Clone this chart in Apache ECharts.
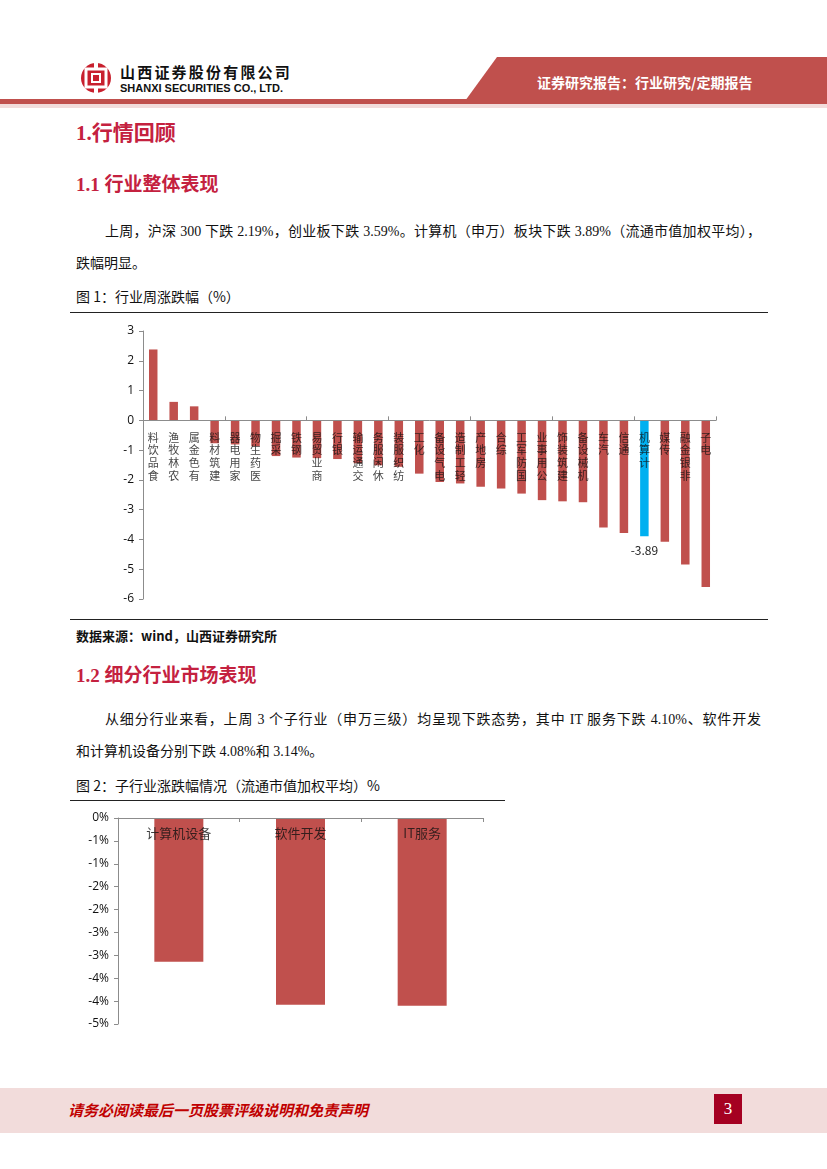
<!DOCTYPE html>
<html>
<head>
<meta charset="utf-8">
<script src="https://cdn.jsdelivr.net/npm/echarts@6/dist/echarts.min.js"></script>
<style>
  html,body{margin:0;padding:0;background:#fff;}
  body{width:827px;height:1169px;position:relative;overflow:hidden;font-family:"Liberation Serif","Noto Sans CJK SC",serif;}
  .abs{position:absolute;white-space:nowrap;}
  #chart{position:absolute;left:0;top:0;width:827px;height:1169px;}
  .h1{color:#C4213F;font-size:21px;font-weight:bold;font-family:"Liberation Serif","Noto Sans CJK SC",serif;}
  .h2{color:#C4213F;font-size:19px;font-weight:bold;font-family:"Liberation Serif","Noto Sans CJK SC",serif;}
  .p{font-size:14px;color:#111;font-family:"Liberation Serif","Noto Sans CJK SC",serif;}
  .just{text-align:justify;text-align-last:justify;white-space:normal;}
  .cap{font-size:14px;color:#111;font-family:"Noto Sans CJK SC",sans-serif;}
  .rule{position:absolute;height:0;border-top:1.5px solid #222;}
</style>
</head>
<body>
<!-- header -->
<svg class="abs" style="left:0;top:0" width="827" height="112">
  <polygon points="497,57 827,57 827,101 465,101" fill="#C0504D"/>
  <rect x="0" y="99" width="827" height="5" fill="#C0504D"/>
  <rect x="0" y="104" width="827" height="4" fill="#F2DCDB"/>
  <circle cx="96" cy="78" r="15" fill="#C8202E"/>
  <rect x="86" y="69" width="20" height="18" fill="none" stroke="#fff" stroke-width="3"/>
  <rect x="92" y="74" width="8" height="8" fill="#C8202E" stroke="#fff" stroke-width="2"/>
  <rect x="94" y="60" width="4" height="8" fill="#fff"/>
  <rect x="94" y="88" width="4" height="8" fill="#fff"/>
</svg>
<div class="abs" style="left:120px;top:63px;font-size:15px;font-weight:bold;color:#111;font-family:'Noto Sans CJK SC',sans-serif;letter-spacing:2.2px;line-height:18px;">山西证券股份有限公司</div>
<div class="abs" style="left:120px;top:81px;font-size:11px;font-weight:bold;color:#111;font-family:'Liberation Sans',sans-serif;line-height:14px;">SHANXI SECURITIES CO., LTD.</div>
<div class="abs" style="left:537px;top:73px;font-size:14px;font-weight:bold;color:#fff;font-family:'Noto Sans CJK SC',sans-serif;line-height:18px;">证券研究报告：行业研究/定期报告</div>

<div class="abs h1" style="left:76px;top:119px;line-height:28px;">1.行情回顾</div>
<div class="abs h2" style="left:76px;top:172px;line-height:26px;">1.1 行业整体表现</div>
<div class="abs p just" style="left:105px;top:222px;width:656px;line-height:20px;">上周，沪深 300 下跌 2.19%，创业板下跌 3.59%。计算机（申万）板块下跌 3.89%（流通市值加权平均），</div>
<div class="abs p" style="left:76px;top:254px;line-height:20px;">跌幅明显。</div>
<div class="abs cap" style="left:76px;top:286px;line-height:20px;">图 1：行业周涨跌幅（%）</div>
<div class="rule" style="left:70px;top:312px;width:698px;"></div>
<div class="rule" style="left:70px;top:619px;width:698px;"></div>
<div class="abs cap" style="left:76px;top:626px;line-height:20px;font-size:13px;font-weight:bold;">数据来源：wind，山西证券研究所</div>

<div class="abs h2" style="left:76px;top:663px;line-height:26px;">1.2 细分行业市场表现</div>
<div class="abs p just" style="left:105px;top:710px;width:656px;line-height:20px;">从细分行业来看，上周 3 个子行业（申万三级）均呈现下跌态势，其中 IT 服务下跌 4.10%、软件开发</div>
<div class="abs p" style="left:76px;top:742px;line-height:20px;">和计算机设备分别下跌 4.08%和 3.14%。</div>
<div class="abs cap" style="left:76px;top:775px;line-height:20px;">图 2：子行业涨跌幅情况（流通市值加权平均）%</div>
<div class="rule" style="left:70px;top:800px;width:435px;"></div>

<div id="chart"></div>

<!-- footer -->
<div class="abs" style="left:0;top:1088px;width:827px;height:45px;background:#F2DCDB;"></div>
<div class="abs" style="left:68px;top:1100px;font-size:15px;font-weight:bold;font-style:italic;color:#C00000;font-family:'Noto Sans CJK SC',sans-serif;line-height:20px;">请务必阅读最后一页股票评级说明和免责声明</div>
<div class="abs" style="left:714px;top:1094px;width:28px;height:30px;background:#A50021;color:#fff;font-size:17px;text-align:center;line-height:30px;font-family:'Liberation Serif',serif;">3</div>

<script>
// ---- Chart 1 data: 行业周涨跌幅（%） ----
const industries = ['食品饮料','农林牧渔','有色金属','建筑材料','家用电器','医药生物','采掘','钢铁','商业贸易','银行','交通运输','休闲服务','纺织服装','化工','电气设备','轻工制造','房地产','综合','国防军工','公用事业','建筑装饰','机械设备','汽车','通信','计算机','传媒','非银金融','电子'];
const weeklyChange = [2.38,0.62,0.47,-0.77,-0.81,-0.87,-1.20,-1.25,-1.27,-1.30,-1.44,-1.51,-1.56,-1.79,-2.07,-2.12,-2.23,-2.29,-2.46,-2.68,-2.72,-2.75,-3.60,-3.78,-3.89,-4.08,-4.84,-5.60];
const highlightIndustry = '计算机';
const yAxis1Min = -6, yAxis1Max = 3, yAxis1Step = 1;

// ---- Chart 2 data: 子行业涨跌幅（%） ----
const subIndustries = ['计算机设备','软件开发','IT服务'];
const subChange = [-3.14,-4.08,-4.10];
const yAxis2Min = -4.5, yAxis2Max = 0, yAxis2Step = 0.5;

const RED = '#C0504D', BLUE = '#00B0F0', AXIS = '#8C8C8C';
const cjk = '"Noto Sans CJK SC", sans-serif';

const chart = echarts.init(document.getElementById('chart'), null, {renderer:'canvas', width:827, height:1169});

const data1 = weeklyChange.map((v,i)=> industries[i]===highlightIndustry ? {
  value:v, itemStyle:{color:BLUE},
  label:{show:true, position:'bottom', distance:8, color:'#222', fontSize:12, fontFamily:cjk, formatter:(p)=>p.value.toFixed(2)}
} : v);

function excelPct(v){
  const r = Math.sign(v) * Math.round(Math.abs(v));
  return (r === 0 ? 0 : r) + '%';
}

// category-name label anchors sitting on the zero line (axis labels in the reference hang from the zero line)
const zeroAnchors1 = industries.map(c => [c, 0]);
const zeroAnchors2 = subIndustries.map(c => [c, 0]);

chart.setOption({
  animation:false,
  grid:[
    {left:143, right:111, top:331, height:268, containLabel:false},
    {left:118, right:344, top:818, height:206, containLabel:false}
  ],
  xAxis:[
    {gridIndex:0, type:'category', data:industries, z:5,
     axisLine:{onZero:true, lineStyle:{color:AXIS, width:1}},
     axisTick:{show:true, inside:true, length:4, lineStyle:{color:AXIS}},
     axisLabel:{show:false}
    },
    {gridIndex:1, type:'category', data:subIndustries, z:5,
     axisLine:{onZero:true, lineStyle:{color:AXIS, width:1}},
     axisTick:{show:true, inside:false, length:4, lineStyle:{color:AXIS}},
     axisLabel:{show:false}
    }
  ],
  yAxis:[
    {gridIndex:0, type:'value', min:yAxis1Min, max:yAxis1Max, interval:yAxis1Step,
     axisLine:{show:true, lineStyle:{color:AXIS}},
     axisTick:{show:true, length:4, lineStyle:{color:AXIS}},
     splitLine:{show:false},
     axisLabel:{color:'#111', fontSize:12, margin:9, fontFamily:'"Open Sans", sans-serif'}
    },
    {gridIndex:1, type:'value', min:yAxis2Min, max:yAxis2Max, interval:yAxis2Step,
     axisLine:{show:true, lineStyle:{color:AXIS}},
     axisTick:{show:true, length:4, lineStyle:{color:AXIS}},
     splitLine:{show:false},
     axisLabel:{color:'#111', fontSize:12, margin:9, fontFamily:'"Open Sans", sans-serif', formatter:excelPct}
    }
  ],
  series:[
    {type:'bar', xAxisIndex:0, yAxisIndex:0, data:data1, barWidth:8.5, itemStyle:{color:RED}, z:2},
    {type:'bar', xAxisIndex:1, yAxisIndex:1, data:subChange, barWidth:49, itemStyle:{color:RED}, z:2},
    {type:'scatter', xAxisIndex:0, yAxisIndex:0, data:zeroAnchors1, symbolSize:0, z:10, silent:true,
     label:{show:true, position:'bottom', distance:11, color:'#111', fontSize:11, lineHeight:12.6, fontFamily:cjk,
       formatter:(p)=>p.value[0].split('').reverse().join('\n')}},
    {type:'scatter', xAxisIndex:1, yAxisIndex:1, data:zeroAnchors2, symbolSize:0, z:10, silent:true,
     label:{show:true, position:'bottom', distance:9, color:'#111', fontSize:13, fontFamily:cjk,
       formatter:(p)=>p.value[0]}}
  ]
});
</script>
</body>
</html>
